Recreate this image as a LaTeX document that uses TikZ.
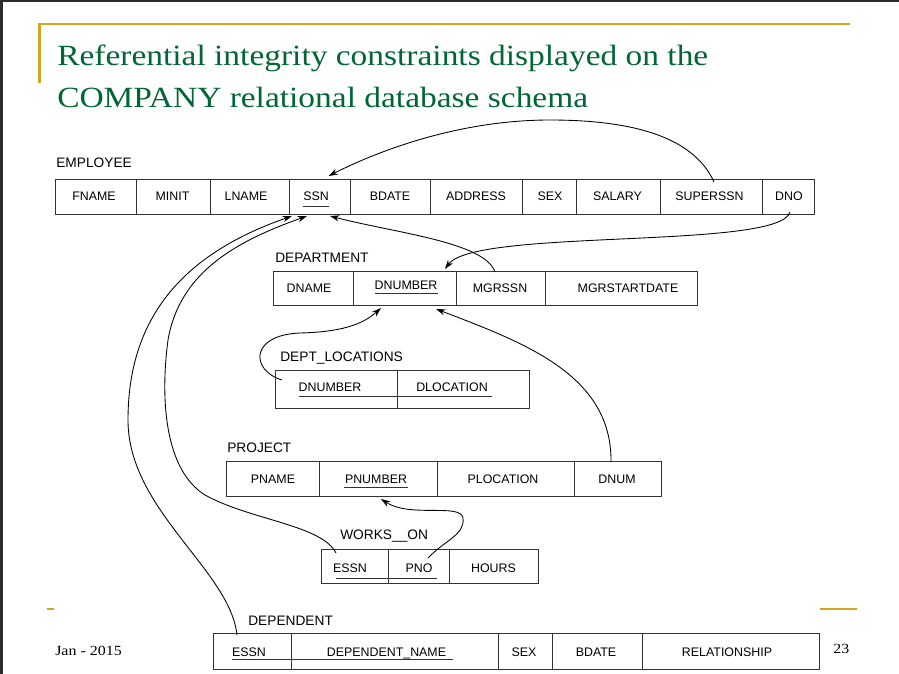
\documentclass[tikz,border=0pt]{standalone}
\usepackage{fontspec}
\setmainfont{Liberation Serif}
\setsansfont{Liberation Sans}
\newfontfamily\titlefont[FakeStretch=1.14]{Liberation Serif}
\usetikzlibrary{arrows.meta,calc}
\definecolor{titlegreen}{RGB}{0,102,51}
\definecolor{gold}{RGB}{214,166,30}
\definecolor{framegray}{RGB}{45,45,45}
\newcommand\cellbox[8]{%
  \node[cell, minimum width={(#3-#2)*0.75pt}, minimum height={(#5-#4)*0.75pt}] (#1) at ({(#2+#3)/2},{(#4+#5)/2}) {};
  \node[ctext] (#1-t) at (#6,#7) {#8};}
\begin{document}
\begin{tikzpicture}[x=0.75pt,y=-0.75pt,
  cell/.style={draw=black!80, line width=0.7pt, inner sep=0pt, outer sep=0pt, rectangle},
  ctext/.style={font=\sffamily\fontsize{9.3}{11}\selectfont, inner sep=0pt, text height=6.7pt, text depth=0pt},
  tlabel/.style={font=\sffamily\fontsize{10.3}{12}\selectfont, anchor=west, inner sep=0pt, text height=7.4pt, text depth=0pt},
  fk/.style={line width=0.65pt, -{Stealth[length=7pt,width=4.6pt]}},
  ul/.style={line width=0.7pt, draw=black!80},
  titletext/.style={anchor=base west, inner sep=0pt, text=titlegreen, font=\titlefont\fontsize{22}{26}\selectfont},
  foot/.style={anchor=base west, inner sep=0pt, font=\titlefont\fontsize{10.5}{12}\selectfont}]
\useasboundingbox (0,0) rectangle (899,674);
\fill[white] (0,0) rectangle (899,674);
\fill[framegray] (0,0) rectangle (899,2.5);
\fill[framegray] (0,0) rectangle (2.5,674);
% slide decoration
\draw[gold, line width=1.8pt] (39.3,83) -- (39.3,24.3) -- (850,24.3);
\draw[gold, line width=1.8pt] (47,609) -- (54,609);
\draw[gold, line width=1.8pt] (820,609) -- (857,609);
\node[titletext] (title1) at (57,65) {Referential integrity constraints displayed on the};
\node[titletext] (title2) at (57,108) {COMPANY relational database schema};
\node[foot] (date) at (55,655) {Jan - 2015};
\node[foot] (page) at (833,653) {23};
% EMPLOYEE
\node[tlabel] (lemp) at (56,163) {EMPLOYEE};
\cellbox{fname}{55}{136}{179}{214}{94}{196.5}{FNAME}
\cellbox{minit}{136}{210}{179}{214}{172.5}{196.5}{MINIT}
\cellbox{lname}{210}{289}{179}{214}{246}{196.5}{LNAME}
\cellbox{ssn}{289}{350}{179}{214}{316}{196.5}{SSN}
\cellbox{bdate}{350}{430}{179}{214}{390}{196.5}{BDATE}
\cellbox{address}{430}{522}{179}{214}{476}{196.5}{ADDRESS}
\cellbox{sex}{522}{576}{179}{214}{550}{196.5}{SEX}
\cellbox{salary}{576}{660}{179}{214}{617.5}{196.5}{SALARY}
\cellbox{super}{660}{762}{179}{214}{709.5}{196.5}{SUPERSSN}
\cellbox{dno}{762}{814}{179}{214}{789}{196.5}{DNO}
\draw[ul] (303,206) -- (329,206);
% DEPARTMENT
\node[tlabel] (ldept) at (275,258) {DEPARTMENT};
\cellbox{dname}{273}{353}{271}{305}{309}{288}{DNAME}
\cellbox{dnumber}{353}{456}{271}{305}{406}{285.5}{DNUMBER}
\cellbox{mgrssn}{456}{545}{271}{305}{500}{288}{MGRSSN}
\cellbox{mgrstart}{545}{697}{271}{305}{628}{288}{MGRSTARTDATE}
\draw[ul] (375,293) -- (438,293);
% DEPT_LOCATIONS
\node[tlabel] (lloc) at (280,357) {DEPT\_LOCATIONS};
\cellbox{ldn}{275}{397}{370}{408}{330}{387}{DNUMBER}
\cellbox{lloc}{397}{529}{370}{408}{452}{387}{DLOCATION}
\draw[ul] (299,396) -- (492,396);
% PROJECT
\node[tlabel] (lproj) at (227,448) {PROJECT};
\cellbox{pname}{226}{319}{461}{496}{273}{479}{PNAME}
\cellbox{pnumber}{319}{437}{461}{496}{376}{479}{PNUMBER}
\cellbox{ploc}{437}{574}{461}{496}{503}{479}{PLOCATION}
\cellbox{dnum}{574}{661}{461}{496}{617}{479}{DNUM}
\draw[ul] (344,487) -- (408,487);
% WORKS_ON
\node[tlabel] (lworks) at (340,535) {WORKS\_\_ON};
\cellbox{wessn}{321}{388}{549}{583}{350}{568}{ESSN}
\cellbox{pno}{388}{449}{549}{583}{419}{568}{PNO}
\cellbox{hours}{449}{538}{549}{583}{493.5}{568}{HOURS}
\draw[ul] (336,578) -- (437,578);
% DEPENDENT
\node[tlabel] (ldep) at (248,621) {DEPENDENT};
\cellbox{dessn}{213}{291}{633}{669}{249}{652}{ESSN}
\cellbox{depname}{291}{498}{633}{669}{386.5}{652}{DEPENDENT\_NAME}
\cellbox{dsex}{498}{552}{633}{669}{524}{652}{SEX}
\cellbox{dbdate}{552}{642}{633}{669}{596}{652}{BDATE}
\cellbox{rel}{642}{819}{633}{669}{727}{652}{RELATIONSHIP}
\draw[ul] (232,659) -- (453,659);
% referential integrity constraints
\draw[fk] ($(super.north)+(3,3)$) .. controls (695,140) and (640,120) .. (550,120) .. controls (460,120) and (380,150) .. ($(ssn.north)+(9,-3)$);
\draw[fk] ($(dno.south)+(2,-2)$) .. controls (780,250) and (475,228) .. ($(dnumber.north)+(40.5,-2)$);
\draw[fk] ($(mgrssn.north)+(-5.5,1)$) .. controls (485,242) and (395,233) .. ($(ssn.south)+(10.5,2)$);
\draw[fk] ($(ldn.north west)+(7,10)$) .. controls (250,370) and (250,335) .. (300,333) .. controls (340,332) and (362,325) .. ($(dnumber.south)+(-23.5,3)$);
\draw[fk] ($(dnum.north)+(-6.5,1)$) .. controls (612,375) and (525,343) .. ($(dnumber.south)+(31.5,4)$);
\draw[fk] ($(pno.north)+(9.5,9)$) .. controls (445,540) and (465,535) .. (463,518) .. controls (461,503) and (410,518) .. ($(pnumber.south)+(3,3)$);
\draw[fk] ($(wessn.north)+(-18.5,4)$) .. controls (322,525) and (250,520) .. (205,495) .. controls (165,470) and (160,400) .. (168,340) .. controls (180,270) and (240,240) .. ($(ssn.south)+(-12.5,2)$);
\draw[fk] ($(dessn.north)+(-15,2)$) .. controls (230,570) and (128,510) .. (128,420) .. controls (128,320) and (180,255) .. ($(ssn.south)+(-27.5,2)$);
\end{tikzpicture}
\end{document}
